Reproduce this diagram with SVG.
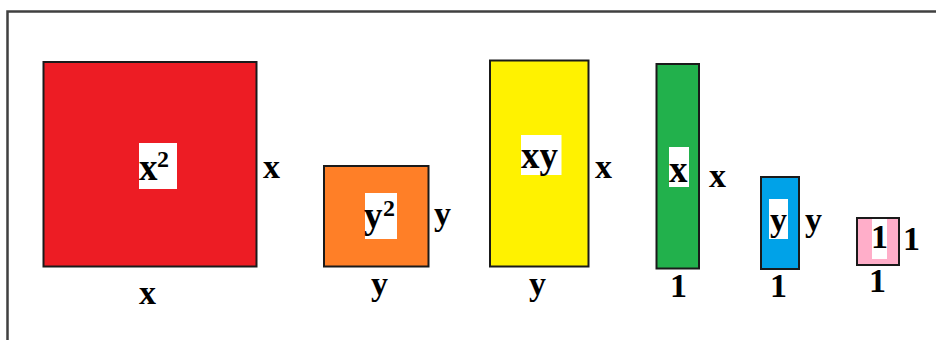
<svg xmlns="http://www.w3.org/2000/svg" width="936" height="340" viewBox="0 0 936 340">
<style>
.tile{stroke:#1a1a1a;stroke-width:2}
.lab{fill:#fff}
text{font-family:"Liberation Serif","Times New Roman",serif;font-weight:bold;font-size:34px;fill:#000}
.big{font-size:37px}
.sup{font-size:24px}
</style>
<rect width="936" height="340" fill="#fff"/>
<g id="connectors"></g>
<path d="M7.5,340 V11.5 H936" fill="none" stroke="#404040" stroke-width="2.5"/>
<g id="x2">
<rect class="tile" x="43.5" y="62" width="213" height="204.5" fill="#ED1C24"/>
<rect class="lab" x="139" y="143" width="38" height="46"/>
<text class="big" x="139" y="180">x</text><text class="sup" x="157" y="167">2</text>
<text x="263" y="178">x</text>
<text x="139" y="304">x</text>
</g>
<g id="y2">
<rect class="tile" x="324" y="166" width="104.5" height="100.5" fill="#FF7F27"/>
<rect class="lab" x="365" y="193" width="32" height="46"/>
<text class="big" x="364" y="228">y</text><text class="sup" x="383" y="216">2</text>
<text x="434" y="225">y</text>
<text x="371" y="295">y</text>
</g>
<g id="xy">
<rect class="tile" x="490" y="60.5" width="98.5" height="206" fill="#FFF200"/>
<rect class="lab" x="521" y="135" width="40.5" height="40"/>
<text class="big" x="521" y="168">xy</text>
<text x="595" y="178">x</text>
<text x="529" y="295">y</text>
</g>
<g id="x1">
<rect class="tile" x="656.5" y="64" width="42.5" height="204.5" fill="#22B14C"/>
<rect class="lab" x="669" y="147" width="20" height="40"/>
<text class="big" x="669" y="182">x</text>
<text x="709" y="187">x</text>
<text x="670" y="297">1</text>
</g>
<g id="y1">
<rect class="tile" x="761" y="177" width="38" height="92" fill="#00A2E8"/>
<rect class="lab" x="769" y="199" width="19" height="40"/>
<text x="770" y="231">y</text>
<text x="805" y="231">y</text>
<text x="770" y="297">1</text>
</g>
<g id="one">
<rect class="tile" x="857" y="218" width="42" height="47" fill="#FFAEC9"/>
<rect class="lab" x="872" y="219" width="15" height="40"/>
<text x="871" y="248">1</text>
<text x="903" y="250">1</text>
<text x="869" y="292">1</text>
</g>
</svg>
